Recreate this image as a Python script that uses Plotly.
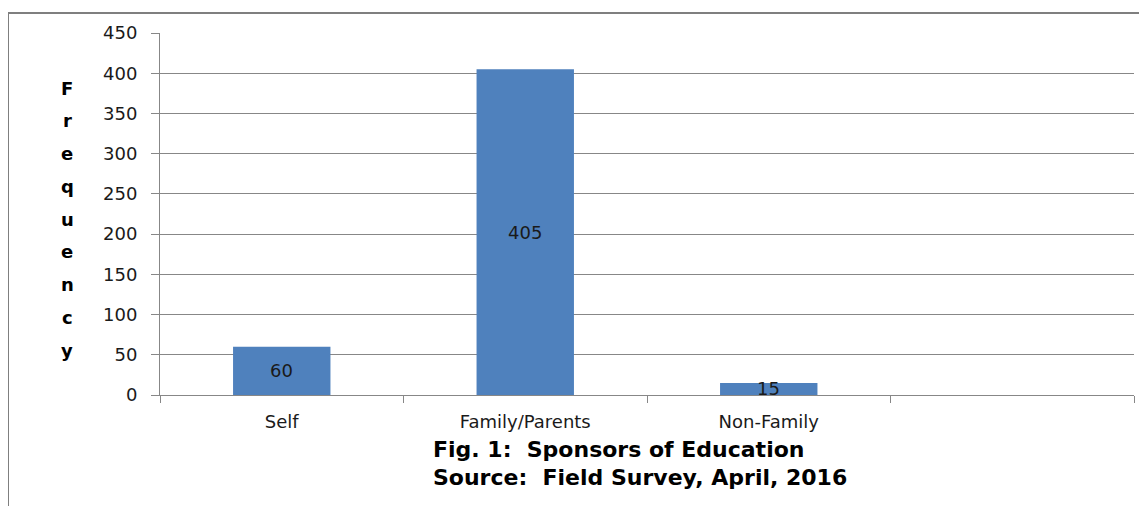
import plotly.graph_objects as go

categories = ["Self", "Family/Parents", "Non-Family"]
axis_slots = ["Self", "Family/Parents", "Non-Family", " "]
values = [60, 405, 15]
y_title_letters = list("Frequency")
title_lines = ["Fig. 1:\u00a0 Sponsors of Education", "Source:\u00a0 Field Survey, April, 2016"]

OFF = 8  # page body margin
W, H = 1147 - OFF, 506 - OFF
L, T = 160 - OFF, 33 - OFF
R = W - (1134 - OFF)
B = H - (395 - OFF)
pw, ph = W - L - R, H - T - B

def px_x(p):
    return (p - OFF - L) / pw

def px_y(p):
    return (H - B - (p - OFF)) / ph

font_fam = "DejaVu Sans"
grid_col = "#878787"
tick_size = 18

fig = go.Figure()
fig.add_trace(go.Bar(
    x=categories, y=values,
    marker=dict(color="#4F81BD", line=dict(width=0)),
    hoverinfo="x+y",
))

annotations = []
for c, v in zip(categories, values):
    annotations.append(dict(x=c, y=v / 2, xref="x", yref="y", text=str(v),
                            showarrow=False, font=dict(family=font_fam, size=tick_size, color="#1a1a1a")))

for i, ch in enumerate(y_title_letters):
    annotations.append(dict(x=px_x(67), y=px_y(88 + i * 32.75), xref="paper", yref="paper",
                            text="<b>" + ch + "</b>", showarrow=False, xanchor="center", yanchor="middle",
                            font=dict(family=font_fam, size=18, color="black")))

for i, line in enumerate(title_lines):
    annotations.append(dict(x=px_x(431), y=px_y(450 + i * 28), xref="paper", yref="paper",
                            text="<b>" + line + "</b>", showarrow=False, xanchor="left", yanchor="middle",
                            font=dict(family=font_fam, size=22, color="black")))

fig.update_layout(
    width=W, height=H,
    margin=dict(l=L, r=R, t=T, b=B, autoexpand=False),
    paper_bgcolor="white", plot_bgcolor="white",
    showlegend=False,
    bargap=0.6,
    font=dict(family=font_fam, size=tick_size, color="#1a1a1a"),
    annotations=annotations,
    shapes=[dict(type="rect", xref="paper", yref="paper",
                 x0=px_x(8), x1=px_x(1170), y0=px_y(540), y1=px_y(13),
                 line=dict(color="#7f7f7f", width=2), fillcolor="rgba(0,0,0,0)", layer="below")],
)
fig.update_xaxes(
    type="category", categoryorder="array", categoryarray=axis_slots,
    range=[-0.5, 3.5], tickson="boundaries", ticks="outside", ticklen=7, tickcolor=grid_col,
    showline=True, linecolor=grid_col, linewidth=1, showgrid=False,
    tickfont=dict(family=font_fam, size=tick_size, color="#1a1a1a"), ticklabelstandoff=10,
)
fig.update_yaxes(
    range=[0, 450], dtick=50, tick0=0, ticks="outside", ticklen=8, tickcolor=grid_col,
    showline=True, linecolor=grid_col, linewidth=1,
    showgrid=True, gridcolor=grid_col, gridwidth=1, zeroline=False,
    tickfont=dict(family=font_fam, size=tick_size, color="#1a1a1a"), ticklabelstandoff=10,
)

fig.write_html("out.html")
